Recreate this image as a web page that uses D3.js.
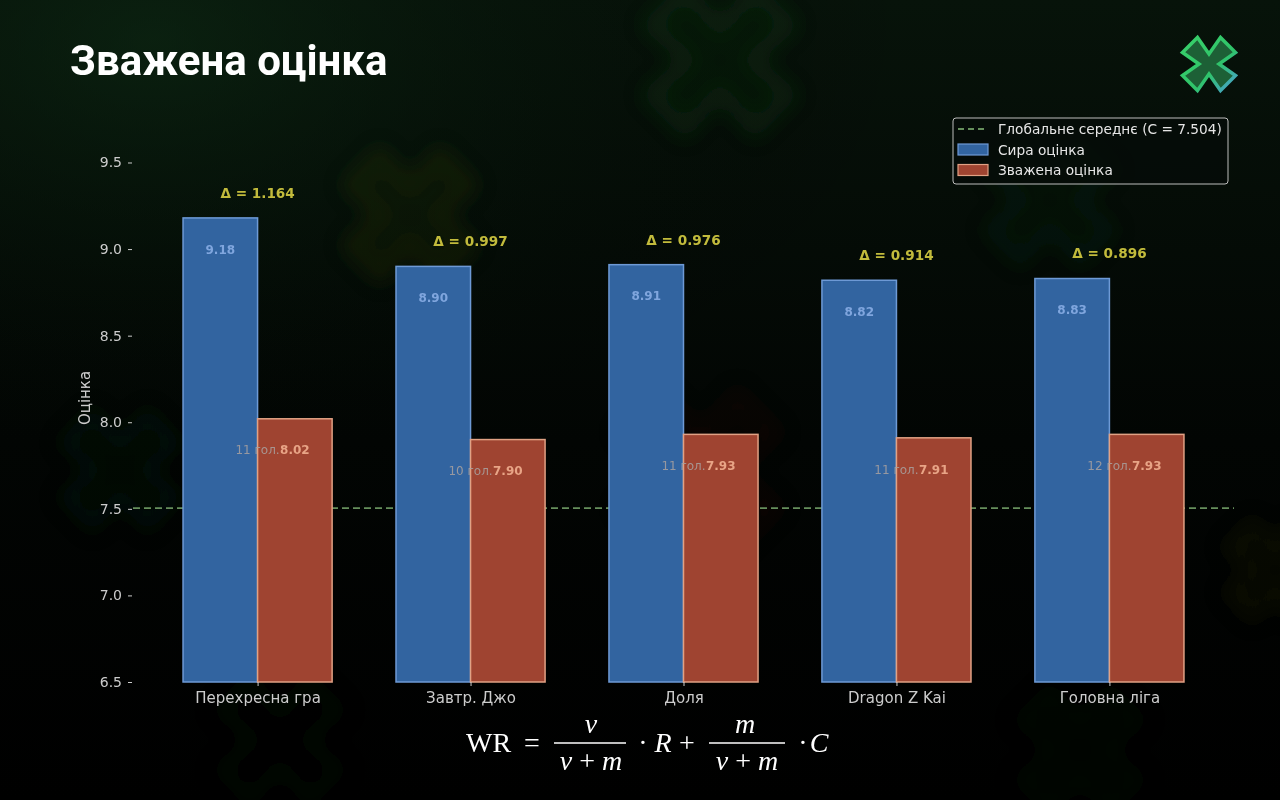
<!DOCTYPE html>
<html>
<head>
<meta charset="utf-8">
<script src="https://cdn.jsdelivr.net/npm/d3@7"></script>
<style>
  html, body { margin: 0; padding: 0; background: #000; }
  svg { display: block; }
</style>
</head>
<body>
<svg id="chart" width="1280" height="800"></svg>
<script>
// ---------- data ----------
const categories = ["Перехресна гра", "Завтр. Джо", "Доля", "Dragon Z Kai", "Головна ліга"];
const rawScores = [9.18, 8.90, 8.91, 8.82, 8.83];
const weightedScores = [8.02, 7.90, 7.93, 7.91, 7.93];
const voteCounts = [11, 10, 11, 11, 12];
const deltas = [1.164, 0.997, 0.976, 0.914, 0.896];
const globalMean = 7.504;
const yTicks = [6.5, 7.0, 7.5, 8.0, 8.5, 9.0, 9.5];
const titleText = "Зважена оцінка";
const yLabel = "Оцінка";
const legendLabels = ["Глобальне середнє (C = 7.504)", "Сира оцінка", "Зважена оцінка"];

// ---------- setup ----------
const svg = d3.select("#chart");
const W = 1280, H = 800;
const defs = svg.append("defs");

// background
const bg = defs.append("linearGradient").attr("id", "bgGrad").attr("x1", 0).attr("y1", 0).attr("x2", 0).attr("y2", 1);
bg.append("stop").attr("offset", "0%").attr("stop-color", "#07130a");
bg.append("stop").attr("offset", "55%").attr("stop-color", "#020503");
bg.append("stop").attr("offset", "100%").attr("stop-color", "#000000");
svg.append("rect").attr("width", W).attr("height", H).attr("fill", "url(#bgGrad)");
const glow = defs.append("radialGradient").attr("id", "glow").attr("cx", "0.12").attr("cy", "0.05").attr("r", "0.6");
glow.append("stop").attr("offset", "0%").attr("stop-color", "#0d2a14").attr("stop-opacity", 0.6);
glow.append("stop").attr("offset", "100%").attr("stop-color", "#000").attr("stop-opacity", 0);
svg.append("rect").attr("width", W).attr("height", H).attr("fill", "url(#glow)");

// faint decorative crosses
defs.append("filter").attr("id", "blurF").attr("x", "-50%").attr("y", "-50%").attr("width", "200%").attr("height", "200%")
  .append("feGaussianBlur").attr("stdDeviation", 10);
function xPath(s, t, n) {
  const p = [[-s, -s + t], [-s + t, -s], [0, -n], [s - t, -s], [s, -s + t], [n, 0], [s, s - t], [s - t, s], [0, n], [-s + t, s], [-s, s - t], [-n, 0]];
  return "M" + p.map(d => d.join(",")).join("L") + "Z";
}
const deco = [
  {x: 720, y: 60, s: 70, c: "#1e5a2a", o: 0.22},
  {x: 410, y: 215, s: 60, c: "#3a4a12", o: 0.25},
  {x: 1050, y: 200, s: 60, c: "#1b4a24", o: 0.15},
  {x: 700, y: 470, s: 75, c: "#3a0f10", o: 0.2},
  {x: 120, y: 470, s: 55, c: "#143a1c", o: 0.18},
  {x: 280, y: 740, s: 60, c: "#12361a", o: 0.16},
  {x: 1080, y: 750, s: 60, c: "#12361a", o: 0.14},
  {x: 1275, y: 570, s: 45, c: "#3a3a10", o: 0.18}
];
svg.append("g").attr("filter", "url(#blurF)").selectAll("path").data(deco).join("path")
  .attr("transform", d => `translate(${d.x},${d.y})`)
  .attr("d", d => xPath(d.s, d.s * 0.5, d.s * 0.45))
  .attr("fill", d => d.c).attr("fill-opacity", 0.4).attr("stroke", d => d.c).attr("stroke-width", 14).attr("opacity", d => d.o);

// title
svg.append("text").attr("x", 70).attr("y", 75).text(titleText)
  .attr("font-family", "Roboto, Inter, sans-serif").attr("font-weight", 700)
  .attr("font-size", 42).attr("fill", "#ffffff");

// logo
const lg = defs.append("linearGradient").attr("id", "logoStroke").attr("x1", 0).attr("y1", 0).attr("x2", 1).attr("y2", 1);
lg.append("stop").attr("offset", "0%").attr("stop-color", "#39d16a");
lg.append("stop").attr("offset", "60%").attr("stop-color", "#2fc36a");
lg.append("stop").attr("offset", "100%").attr("stop-color", "#4a9fd4");
svg.append("path").attr("transform", "translate(1209,64)")
  .attr("d", xPath(26.5, 15, 10))
  .attr("fill", "#1d6036").attr("stroke", "url(#logoStroke)").attr("stroke-width", 3.5).attr("stroke-linejoin", "miter");

// ---------- scales ----------
const x = d3.scaleLinear().domain([-0.585, 4.585]).range([133, 1234]);
const y = d3.scaleLinear().domain([6.5, 9.78]).range([682, 114]);
const bw = 0.35;
const font = "'DejaVu Sans', sans-serif";

const plot = svg.append("g");

// global mean line
plot.append("line").attr("x1", x.range()[0]).attr("x2", x.range()[1])
  .attr("y1", y(globalMean)).attr("y2", y(globalMean))
  .attr("stroke", "#668f5c").attr("stroke-width", 1.8).attr("stroke-dasharray", "7,4");

const idx = d3.range(categories.length);

// raw bars
plot.selectAll("rect.raw").data(idx).join("rect").attr("class", "raw")
  .attr("x", i => x(i - bw)).attr("width", x(bw) - x(0))
  .attr("y", i => y(rawScores[i])).attr("height", i => y(6.5) - y(rawScores[i]))
  .attr("fill", "#3264a0").attr("stroke", "#6e9ad6").attr("stroke-width", 1.5);

// weighted bars
plot.selectAll("rect.w").data(idx).join("rect").attr("class", "w")
  .attr("x", i => x(i)).attr("width", x(bw) - x(0))
  .attr("y", i => y(weightedScores[i])).attr("height", i => y(6.5) - y(weightedScores[i]))
  .attr("fill", "#9f4431").attr("stroke", "#e1a184").attr("stroke-width", 1.5);

// raw value labels
plot.selectAll("text.rawv").data(idx).join("text").attr("class", "rawv")
  .attr("x", i => x(i - bw / 2)).attr("y", i => y(rawScores[i] - 0.18) + 4.5)
  .attr("text-anchor", "middle").attr("font-family", font).attr("font-weight", "bold").attr("font-size", 12)
  .attr("fill", "#80a6de").text(i => rawScores[i].toFixed(2));

// vote counts
plot.selectAll("text.cnt").data(idx).join("text").attr("class", "cnt")
  .attr("x", i => x(i)).attr("y", i => y(weightedScores[i] - 0.18) + 4.5)
  .attr("text-anchor", "middle").attr("font-family", font).attr("font-size", 12)
  .attr("fill", "#a9a2a0").attr("opacity", 0.85).text(i => voteCounts[i] + " гол.");

// weighted value labels
plot.selectAll("text.wv").data(idx).join("text").attr("class", "wv")
  .attr("x", i => x(i + bw / 2)).attr("y", i => y(weightedScores[i] - 0.18) + 4.5)
  .attr("text-anchor", "middle").attr("font-family", font).attr("font-weight", "bold").attr("font-size", 12)
  .attr("fill", "#e8a486").text(i => weightedScores[i].toFixed(2));

// delta labels
plot.selectAll("text.dl").data(idx).join("text").attr("class", "dl")
  .attr("x", i => x(i)).attr("y", i => y(Math.max(rawScores[i], weightedScores[i]) + 0.145) + 5)
  .attr("text-anchor", "middle").attr("font-family", font).attr("font-weight", "bold").attr("font-size", 13.6)
  .attr("fill", "#c2bb3c").text(i => "Δ = " + deltas[i].toFixed(3));

// y axis
const yAxis = d3.axisLeft(y).tickValues(yTicks).tickFormat(d3.format(".1f")).tickSize(4).tickPadding(6);
const yg = svg.append("g").attr("transform", `translate(${x.range()[0] - 1},0)`).call(yAxis);
yg.select(".domain").remove();
yg.selectAll(".tick line").attr("stroke", "#cccccc");
yg.selectAll(".tick text").attr("fill", "#cccccc").attr("font-family", font).attr("font-size", 14);

// x axis
const xAxis = d3.axisBottom(x).tickValues(idx).tickFormat(i => categories[i]).tickSize(4).tickPadding(6);
const xg = svg.append("g").attr("transform", `translate(0,${y(6.5)})`).call(xAxis);
xg.select(".domain").remove();
xg.selectAll(".tick line").attr("stroke", "#cccccc");
xg.selectAll(".tick text").attr("fill", "#cccccc").attr("font-family", font).attr("font-size", 15);

// y label
svg.append("text").attr("transform", `translate(90,${(y.range()[0] + y.range()[1]) / 2}) rotate(-90)`)
  .attr("text-anchor", "middle").attr("font-family", font).attr("font-size", 15)
  .attr("fill", "#cccccc").text(yLabel);

// legend
const leg = svg.append("g").attr("transform", "translate(953,118)");
leg.append("rect").attr("width", 275).attr("height", 66).attr("rx", 3)
  .attr("fill", "#060c08").attr("fill-opacity", 0.85).attr("stroke", "#bdbdbd").attr("stroke-width", 1);
leg.append("line").attr("x1", 5).attr("x2", 35).attr("y1", 11).attr("y2", 11)
  .attr("stroke", "#668f5c").attr("stroke-width", 1.8).attr("stroke-dasharray", "6,4");
leg.append("rect").attr("x", 5).attr("y", 26).attr("width", 30).attr("height", 11)
  .attr("fill", "#3264a0").attr("stroke", "#6e9ad6").attr("stroke-width", 1.2);
leg.append("rect").attr("x", 5).attr("y", 46.5).attr("width", 30).attr("height", 11)
  .attr("fill", "#9f4431").attr("stroke", "#e1a184").attr("stroke-width", 1.2);
leg.selectAll("text").data(legendLabels).join("text")
  .attr("x", 45).attr("y", (d, i) => 16 + i * 20.5)
  .attr("font-family", font).attr("font-size", 13.7).attr("fill", "#e6e6e6").text(d => d);

// formula
const fm = svg.append("g").attr("fill", "#ffffff").attr("font-family", "'Liberation Serif', 'DejaVu Serif', serif");
const base = 752;
function t(parts, xx, yy, anchor) {
  const el = fm.append("text").attr("x", xx).attr("y", yy).attr("text-anchor", anchor || "middle").attr("font-size", 28);
  parts.forEach(p => el.append("tspan").attr("font-style", p[1] ? "italic" : "normal").text(p[0]));
}
t([["WR", 0]], 466, base, "start");
t([["=", 0]], 532, base);
fm.append("line").attr("x1", 554).attr("x2", 626).attr("y1", 743).attr("y2", 743).attr("stroke", "#fff").attr("stroke-width", 1.3);
t([["v", 1]], 591, 733);
t([["v", 1], [" + ", 0], ["m", 1]], 591, 770);
t([["·", 0]], 643, base);
t([["R", 1]], 663, base);
t([["+", 0]], 687, base);
fm.append("line").attr("x1", 709).attr("x2", 785).attr("y1", 743).attr("y2", 743).attr("stroke", "#fff").attr("stroke-width", 1.3);
t([["m", 1]], 745, 733);
t([["v", 1], [" + ", 0], ["m", 1]], 747, 770);
t([["·", 0]], 803, base);
t([["C", 1]], 819, base);
</script>
</body>
</html>
